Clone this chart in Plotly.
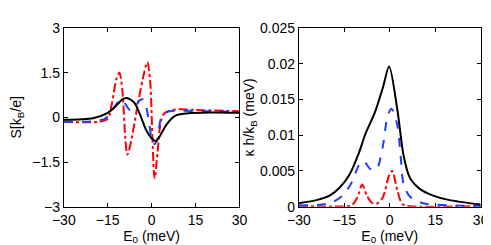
import plotly.graph_objects as go

# Left panel: thermopower S [kB/e]
s_black_x = [-30, -20, -15, -12, -10, -8.5, -6, -4, -2, 0, 1.5, 3, 5, 8, 12, 20, 30]
s_black_y = [-0.08, -0.03, 0.15, 0.4, 0.6, 0.65, 0.5, 0.1, -0.4, -0.7, -0.8, -0.6, -0.25, 0.05, 0.13, 0.16, 0.15]

s_blue_x = [-30, -20, -16, -14, -12, -10.5, -9, -7.5, -6, -4, -3, -2, -1, 0, 1, 2, 3, 4, 6, 10, 20, 30]
s_blue_y = [-0.15, -0.13, -0.05, 0.15, 0.45, 0.6, 0.45, 0.25, 0.3, 0.58, 0.6, 0.4, -0.1, -0.7, -0.9, -0.7, -0.1, 0.1, 0.2, 0.22, 0.2, 0.18]

s_red_x = [-30, -18, -15, -13.5, -12, -11, -10, -9, -8.3, -7, -5, -3, -1.5, -0.5, 0.3, 1, 2, 3, 4, 6, 9, 15, 30]
s_red_y = [-0.15, -0.15, -0.05, 0.5, 1.3, 1.5, 0.9, -0.7, -1.25, -0.8, 0.3, 1.3, 1.85, 1.2, -0.8, -2.05, -1.2, -0.2, 0.1, 0.22, 0.27, 0.25, 0.2]

# Right panel: thermal conductance kappa h / kB (meV)
k_black_x = [-30, -23.9, -19.7, -16.5, -13.4, -10.2, -8.1, -4.9, -2.3, -0.2, 2.5, 4.6, 6.7, 9.9, 14.1, 19.4, 30]
k_black_y = [0.0005, 0.00096, 0.0016, 0.0027, 0.0044, 0.0075, 0.0101, 0.0132, 0.0166, 0.0196, 0.0136, 0.0071, 0.0040, 0.0025, 0.0016, 0.00096, 0.0003]

k_blue_x = [-30, -19.7, -15.4, -12.3, -10.2, -8.6, -6.5, -4.4, -2.3, -0.7, 0.6, 2.5, 3.6, 4.6, 6.7, 11, 20, 30]
k_blue_y = [0.00017, 0.0005, 0.0016, 0.0036, 0.0058, 0.0064, 0.0053, 0.0052, 0.0084, 0.0127, 0.0137, 0.0114, 0.0071, 0.0031, 0.0014, 0.0005, 0.0002, 0.0001]

k_red_x = [-30, -13.4, -12.3, -10.7, -9.1, -7.6, -6, -4.4, -2.3, -0.2, 0.8, 2.5, 4.1, 6, 30]
k_red_y = [0.0001, 0.0001, 0.0003, 0.0013, 0.0031, 0.0016, 0.0006, 0.0004, 0.0013, 0.0044, 0.0050, 0.0023, 0.0004, 0.0001, 0.0001]

x_ticks = [-30, -15, 0, 15, 30]
x_tick_text = ["\u221230", "\u221215", "0", "15", "30"]
s_ticks = [-3, -1.5, 0, 1.5, 3]
s_tick_text = ["\u22123", "\u22121.5", "0", "1.5", "3"]
k_ticks = [0, 0.005, 0.01, 0.015, 0.02, 0.025]
k_tick_text = ["0", "0.005", "0.01", "0.015", "0.02", "0.025"]

RED = "rgb(255,0,0)"
BLUE = "rgb(30,60,255)"
BLACK = "black"

fig = go.Figure()

def add(x, y, color, dash, width, xa, ya):
    fig.add_trace(go.Scatter(x=x, y=y, mode="lines",
                             line=dict(color=color, dash=dash, width=width, shape="spline", smoothing=0.8),
                             xaxis=xa, yaxis=ya, showlegend=False, hoverinfo="skip"))

add(s_red_x, s_red_y, RED, "dashdot", 2, "x", "y")
add(s_blue_x, s_blue_y, BLUE, "dash", 2, "x", "y")
add(s_black_x, s_black_y, BLACK, "solid", 2, "x", "y")

add(k_red_x, k_red_y, RED, "dashdot", 2, "x2", "y2")
add(k_blue_x, k_blue_y, BLUE, "dash", 2, "x2", "y2")
add(k_black_x, k_black_y, BLACK, "solid", 2, "x2", "y2")

FAM = "Liberation Sans, Arial, sans-serif"
tickfont = dict(family=FAM, size=14, color="black")
titlefont = dict(family=FAM, size=14, color="black")
axis_common = dict(showgrid=False, zeroline=False, showline=True, linecolor="black", linewidth=1,
                   mirror="ticks", ticks="inside", ticklen=4, tickcolor="black", tickfont=tickfont)

fig.update_layout(
    width=491, height=245,
    margin=dict(l=0, r=0, t=0, b=0),
    paper_bgcolor="white", plot_bgcolor="white",
    font=dict(family=FAM, size=14, color="black"),
    xaxis=dict(domain=[0.093, 0.466], range=[-30, 30], tickvals=x_ticks, ticktext=x_tick_text,
               title=dict(text="E<sub>0</sub> (meV)", font=titlefont, standoff=0), anchor="y", **axis_common),
    yaxis=dict(domain=[0.167, 0.948], range=[-3, 3], tickvals=s_ticks, ticktext=s_tick_text,
               title=dict(text="S[k<sub>B</sub>/e]", font=titlefont, standoff=12), anchor="x", **axis_common),
    xaxis2=dict(domain=[0.592, 0.978], range=[-30, 30], tickvals=x_ticks, ticktext=x_tick_text,
                title=dict(text="E<sub>0</sub> (meV)", font=titlefont, standoff=0), anchor="y2", **axis_common),
    yaxis2=dict(domain=[0.167, 0.948], range=[0, 0.025], tickvals=k_ticks, ticktext=k_tick_text,
                title=dict(text="\u03ba h/k<sub>B</sub> (meV)", font=titlefont, standoff=2), anchor="x2", **axis_common),
)

fig.write_html("out.html")
